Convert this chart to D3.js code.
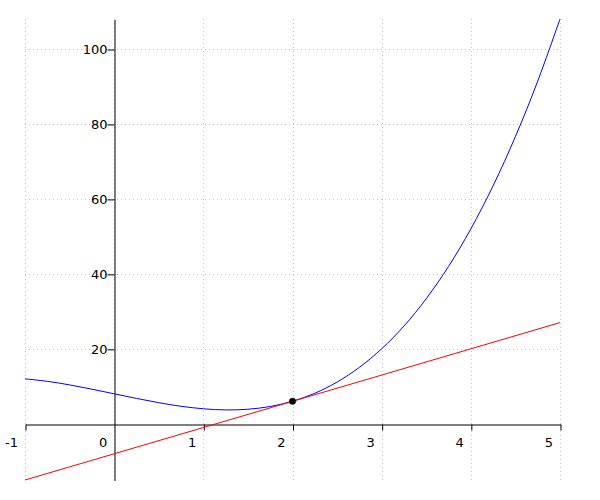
<!DOCTYPE html>
<html>
<head>
<meta charset="utf-8">
<script src="https://cdn.jsdelivr.net/npm/d3@7"></script>
<style>
  html, body { margin: 0; padding: 0; background: #fff; }
  svg { display: block; }
  text { font-family: "DejaVu Sans", sans-serif; font-size: 13px; fill: #000; }
</style>
</head>
<body>
<svg id="chart" width="600" height="500"></svg>
<script>
const curveX = [-1, -0.75, -0.5, -0.25, 0, 0.25, 0.5, 0.75, 1, 1.25, 1.5, 1.75, 2, 2.25, 2.5, 2.75, 3, 3.25, 3.5, 3.75, 4, 4.25, 4.5, 4.75, 5];
const curveY = [12, 11.33, 10.38, 9.23, 8, 6.77, 5.63, 4.67, 4, 3.70, 3.88, 4.61, 6, 8.14, 11.13, 15.05, 20, 26.08, 33.38, 41.98, 52, 63.52, 76.63, 91.42, 108];
// Tangent line end points
const tangentX = [-1, 5];
const tangentY = [-15, 27];
// Highlighted point
const pointX = [2];
const pointY = [6];
// Ticks
const xTicks = [-1, 0, 1, 2, 3, 4, 5];
const yTicks = [20, 40, 60, 80, 100];
const xDomain = [-1, 5];
const yDomain = [-15, 108];

const fmt = d => String(d);

const svg = d3.select("#chart");
const x = d3.scaleLinear().domain(xDomain).range([25, 560]);
const y = d3.scaleLinear().domain(yDomain).range([480, 19]);

// grid
const grid = svg.append("g").attr("stroke", "#c4c4c4").attr("stroke-width", 1).attr("stroke-dasharray", "1,3");
grid.selectAll("line.v").data(xTicks).join("line")
  .attr("x1", d => Math.round(x(d)) + 0.5).attr("x2", d => Math.round(x(d)) + 0.5)
  .attr("y1", y(yDomain[1])).attr("y2", y(yDomain[0]));
grid.selectAll("line.h").data(yTicks).join("line")
  .attr("y1", d => Math.round(y(d)) + 0.5).attr("y2", d => Math.round(y(d)) + 0.5)
  .attr("x1", x(xDomain[0])).attr("x2", x(xDomain[1]));

// x axis
const xAxis = svg.append("g")
  .attr("transform", `translate(0.5,${Math.round(y(0)) + 0.5})`)
  .call(d3.axisBottom(x).tickValues(xTicks).tickSizeInner(6).tickSizeOuter(0).tickFormat(fmt));
xAxis.selectAll("path.domain").attr("stroke", "#000");
xAxis.selectAll(".tick line").attr("stroke", "#000").filter(d => d === 0).remove();
xAxis.selectAll(".tick text")
  .attr("text-anchor", "end").attr("x", -8).attr("y", 13)
  .attr("font-family", "DejaVu Sans, sans-serif").attr("font-size", 13).attr("fill", "#000");

// y axis
const yAxis = svg.append("g")
  .attr("transform", `translate(${Math.round(x(0)) + 0.5},0.5)`)
  .call(d3.axisLeft(y).tickValues(yTicks).tickSizeInner(7).tickSizeOuter(0).tickFormat(fmt));
yAxis.selectAll("path.domain").attr("stroke", "#000");
yAxis.selectAll(".tick line").attr("stroke", "#000");
yAxis.selectAll(".tick text")
  .attr("x", -7)
  .attr("font-family", "DejaVu Sans, sans-serif").attr("font-size", 13).attr("fill", "#000");

// curve
const curveData = curveX.map((d, i) => [d, curveY[i]]);
svg.append("path")
  .datum(curveData)
  .attr("fill", "none").attr("stroke", "#0000ff").attr("stroke-width", 1)
  .attr("d", d3.line().x(d => x(d[0])).y(d => y(d[1])).curve(d3.curveCatmullRom.alpha(0.5)));

// tangent
const tanData = tangentX.map((d, i) => [d, tangentY[i]]);
svg.append("path")
  .datum(tanData)
  .attr("fill", "none").attr("stroke", "#ff0000").attr("stroke-width", 1)
  .attr("d", d3.line().x(d => x(d[0])).y(d => y(d[1])));

// point
svg.selectAll("circle.pt").data(pointX.map((d, i) => [d, pointY[i]])).join("circle")
  .attr("cx", d => x(d[0])).attr("cy", d => y(d[1])).attr("r", 3.3)
  .attr("fill", "#000").attr("stroke", "#333").attr("stroke-width", 0.5);
</script>
</body>
</html>
